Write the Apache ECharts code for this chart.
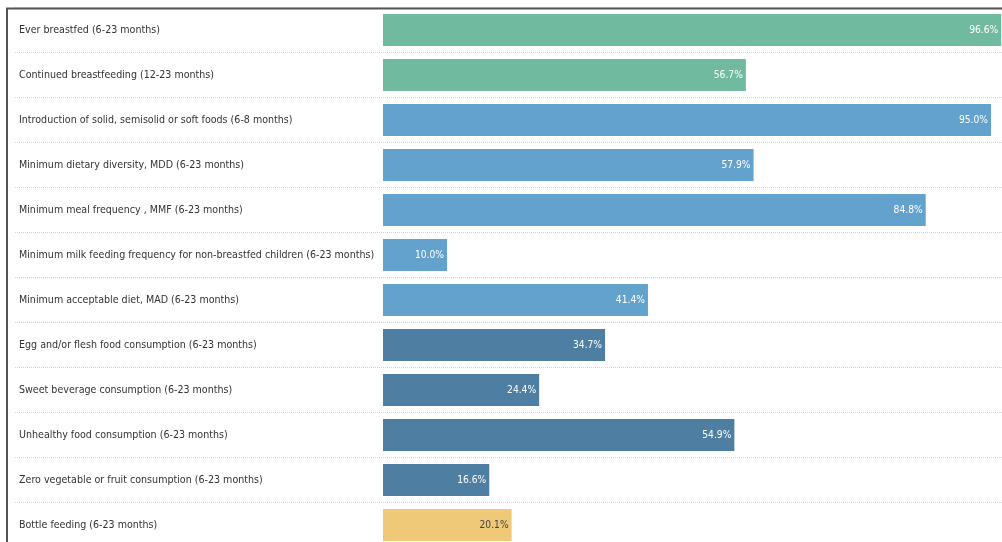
<!DOCTYPE html>
<html>
<head>
<meta charset="utf-8">
<script src="https://cdn.jsdelivr.net/npm/echarts@6/dist/echarts.min.js"></script>
<style>
html,body{margin:0;padding:0;background:#fff;}
#chart{width:1002px;height:542px;}
</style>
</head>
<body>
<div id="chart"></div>
<script>
const categories = [
  "Ever breastfed (6-23 months)",
  "Continued breastfeeding (12-23 months)",
  "Introduction of solid, semisolid or soft foods (6-8 months)",
  "Minimum dietary diversity, MDD (6-23 months)",
  "Minimum meal frequency , MMF (6-23 months)",
  "Minimum milk feeding frequency for non-breastfed children (6-23 months)",
  "Minimum acceptable diet, MAD (6-23 months)",
  "Egg and/or flesh food consumption (6-23 months)",
  "Sweet beverage consumption (6-23 months)",
  "Unhealthy food consumption (6-23 months)",
  "Zero vegetable or fruit consumption (6-23 months)",
  "Bottle feeding (6-23 months)"
];
const values = [96.6, 56.7, 95.0, 57.9, 84.8, 10.0, 41.4, 34.7, 24.4, 54.9, 16.6, 20.1];
const groups = ["breast", "breast", "diet", "diet", "diet", "diet", "diet", "food", "food", "food", "food", "bottle"];
const groupColors = {breast: "#70bb9f", diet: "#62a2cd", food: "#4e7fa3", bottle: "#efc977"};
const groupLabelColors = {breast: "#ffffff", diet: "#ffffff", food: "#ffffff", bottle: "#444444"};

const FONT = "'Liberation Sans Narrow', 'Arial Narrow', 'DejaVu Sans Condensed', sans-serif";

const chart = echarts.init(document.getElementById('chart'), null, {renderer: 'canvas'});
chart.setOption({
  animation: false,
  backgroundColor: '#ffffff',
  grid: {left: 15, top: 7.5, width: 1008, height: 540, containLabel: false, outerBoundsMode: 'none'},
  xAxis: {
    type: 'value', min: -57.5, max: 100,
    show: false
  },
  yAxis: {
    type: 'category', inverse: true, data: categories,
    axisLine: {show: false}, axisTick: {show: false},
    axisLabel: {inside: true, align: 'left', margin: 4, color: '#333', fontSize: 10.6, fontFamily: FONT},
    splitLine: {show: true, lineStyle: {color: '#d4d4d4', type: [1, 1], width: 1}}
  },
  series: [{
    type: 'bar',
    barWidth: 32,
    data: values.map((v, i) => ({
      value: v,
      itemStyle: {color: groupColors[groups[i]]},
      label: {color: groupLabelColors[groups[i]]}
    })),
    label: {
      show: true, position: 'insideRight', distance: 3,
      fontSize: 10.2, fontFamily: FONT,
      formatter: p => p.value.toFixed(1) + '%'
    }
  }],
  graphic: [
    {type: 'line', shape: {x1: 6, y1: 8.5, x2: 1002, y2: 8.5}, style: {stroke: '#555', lineWidth: 2}, z: 100},
    {type: 'line', shape: {x1: 7, y1: 8, x2: 7, y2: 542}, style: {stroke: '#555', lineWidth: 2}, z: 100}
  ]
});
</script>
</body>
</html>
